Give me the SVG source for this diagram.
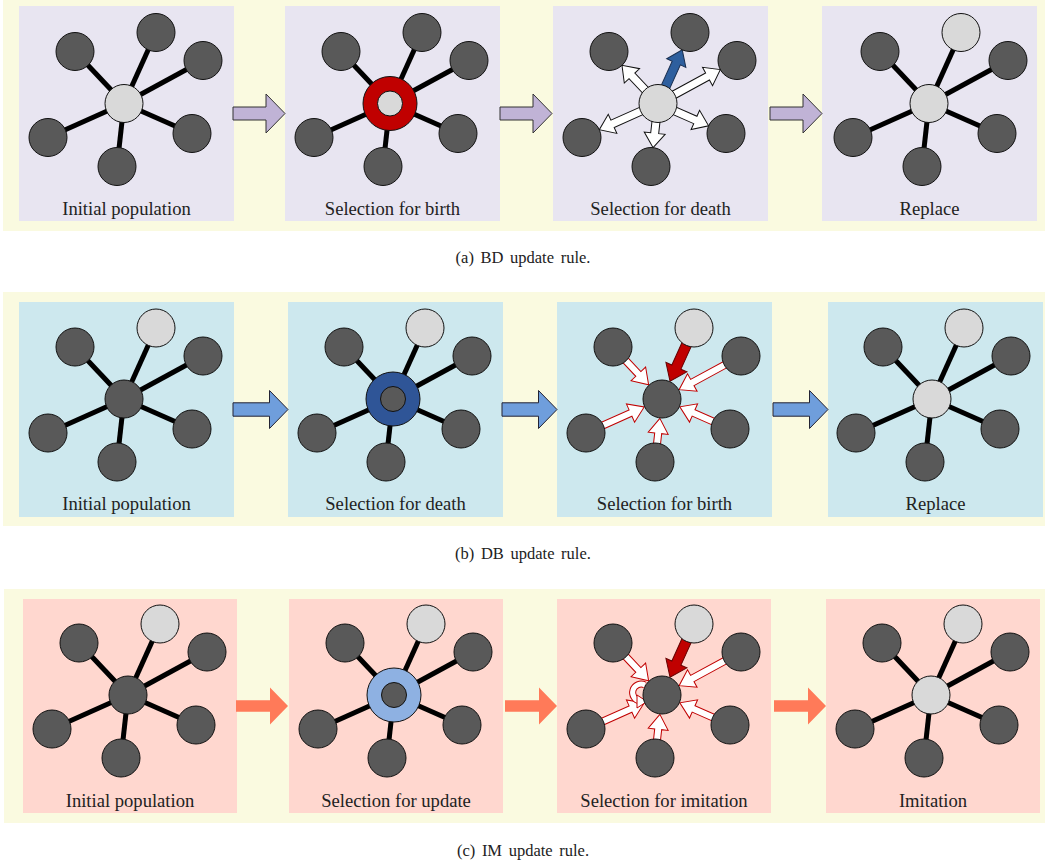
<svg xmlns="http://www.w3.org/2000/svg" xmlns:xlink="http://www.w3.org/1999/xlink" width="1045" height="867" viewBox="0 0 1045 867">
<style>
.band{fill:#fafae0}
.pa{fill:#e8e5f1}
.pb{fill:#cde8ee}
.pc{fill:#ffd7cf}
.e{stroke:#000;stroke-width:5;fill:none}
.d{fill:#595959;stroke:#111;stroke-width:1}
.l{fill:#d9d9d9;stroke:#111;stroke-width:1}
.lab{font-family:"Liberation Serif","Times New Roman",serif;font-size:18.6px;fill:#222;text-anchor:middle}
.cap{font-family:"Liberation Serif","Times New Roman",serif;font-size:16.5px;fill:#222;text-anchor:middle;word-spacing:2.5px}
.wo{fill:#fff;stroke:#111;stroke-width:1}
.wi{fill:#fff;stroke:#c00000;stroke-width:1}
.ra{fill:#c00000;stroke:#600;stroke-width:1}
.ba{fill:#2e5f9e;stroke:#1a2f50;stroke-width:1}
.arA{fill:#c0b3d6;stroke:#333;stroke-width:1}
.arB{fill:#6f9edc;stroke:#223;stroke-width:1}
.arC{fill:#ff7a59}
</style>
<defs>
<g id="edges" class="e">
<line x1="0" y1="0" x2="-49" y2="-52"/>
<line x1="0" y1="0" x2="32" y2="-71"/>
<line x1="0" y1="0" x2="79" y2="-43"/>
<line x1="0" y1="0" x2="68" y2="30"/>
<line x1="0" y1="0" x2="-7" y2="63"/>
<line x1="0" y1="0" x2="-76" y2="34"/>
</g>
<g id="outer5">
<circle class="d" cx="-49" cy="-52" r="19"/>
<circle class="d" cx="79" cy="-43" r="19"/>
<circle class="d" cx="68" cy="30" r="19"/>
<circle class="d" cx="-7" cy="63" r="19"/>
<circle class="d" cx="-76" cy="34" r="19"/>
</g>
<polygon id="bigA" points="-52,-6.5 -19,-6.5 -19,-19.5 0,0 -19,19.5 -19,6.5 -52,6.5"/>
<polygon id="bigB" points="-55,-6.7 -18.5,-6.7 -18.5,-19 0,0 -18.5,19 -18.5,6.7 -55,6.7"/>
<polygon id="bigC" points="-52,-5.8 -18,-5.8 -18,-18.5 0,0 -18,18.5 -18,5.8 -52,5.8"/>
<g id="inArrows">
<polygon class="wi" transform="rotate(-133.3)" points="71.5,-3.5 34.5,-3.5 34.5,-10 19.5,0 34.5,10 34.5,3.5 71.5,3.5"/>
<polygon class="wi" transform="rotate(-28.56)" points="89.9,-3.5 34.5,-3.5 34.5,-10 19.5,0 34.5,10 34.5,3.5 89.9,3.5"/>
<polygon class="wi" transform="rotate(23.81)" points="74.3,-3.5 34.5,-3.5 34.5,-10 19.5,0 34.5,10 34.5,3.5 74.3,3.5"/>
<polygon class="wi" transform="rotate(96.34)" points="63.4,-3.5 34.5,-3.5 34.5,-10 19.5,0 34.5,10 34.5,3.5 63.4,3.5"/>
<polygon class="wi" transform="rotate(155.9)" points="83.3,-3.5 34.5,-3.5 34.5,-10 19.5,0 34.5,10 34.5,3.5 83.3,3.5"/>
<polygon class="ra" transform="rotate(-65.7)" points="77.9,-5 35,-5 35,-11.5 19.5,0 35,11.5 35,5 77.9,5"/>
</g>
</defs>

<g id="bands">
<rect class="band" x="3" y="-1" width="1042" height="232"/>
<rect class="band" x="3" y="292" width="1042" height="234"/>
<rect class="band" x="4" y="589" width="1041" height="234"/>
</g>

<!-- Row a: BD -->
<g id="a1">
<rect class="pa" x="19" y="6" width="215" height="215"/>
<g transform="translate(124,103.5)">
<use xlink:href="#edges" href="#edges"/>
<use xlink:href="#outer5" href="#outer5"/>
<circle class="d" cx="32" cy="-71" r="19"/>
<circle class="l" cx="0" cy="0" r="19"/>
</g>
<text class="lab" x="126.5" y="215">Initial population</text>
</g>
<g id="a2">
<rect class="pa" x="285" y="6" width="215" height="215"/>
<g transform="translate(390,103.5)">
<use xlink:href="#edges" href="#edges"/>
<use xlink:href="#outer5" href="#outer5"/>
<circle class="d" cx="32" cy="-71" r="19"/>
<circle cx="0" cy="0" r="27" fill="#c00000" stroke="#111" stroke-width="1"/>
<circle class="l" cx="0" cy="0" r="12.5"/>
</g>
<text class="lab" x="392.5" y="215">Selection for birth</text>
</g>
<g id="a3">
<rect class="pa" x="553" y="6" width="215" height="215"/>
<g transform="translate(658,103.5)">
<polygon class="wo" transform="rotate(-133.3)" points="0,-4 38,-4 38,-10.5 52.5,0 38,10.5 38,4 0,4"/>
<polygon class="ba" transform="rotate(-65.7)" points="0,-4.5 44.4,-4.5 44.4,-10.5 58.9,0 44.4,10.5 44.4,4.5 0,4.5"/>
<polygon class="wo" transform="rotate(-28.56)" points="0,-4 56.4,-4 56.4,-10.5 70.9,0 56.4,10.5 56.4,4 0,4"/>
<polygon class="wo" transform="rotate(23.81)" points="0,-4 40.8,-4 40.8,-10.5 55.3,0 40.8,10.5 40.8,4 0,4"/>
<polygon class="wo" transform="rotate(96.34)" points="0,-4 29.9,-4 29.9,-10.5 44.4,0 29.9,10.5 29.9,4 0,4"/>
<polygon class="wo" transform="rotate(155.9)" points="0,-4 49.8,-4 49.8,-10.5 64.3,0 49.8,10.5 49.8,4 0,4"/>
<use xlink:href="#outer5" href="#outer5"/>
<circle class="d" cx="32" cy="-71" r="19"/>
<circle class="l" cx="0" cy="0" r="19"/>
</g>
<text class="lab" x="660.5" y="215">Selection for death</text>
</g>
<g id="a4">
<rect class="pa" x="822" y="6" width="215" height="215"/>
<g transform="translate(929,103.5)">
<use xlink:href="#edges" href="#edges"/>
<use xlink:href="#outer5" href="#outer5"/>
<circle class="l" cx="32" cy="-71" r="19"/>
<circle class="l" cx="0" cy="0" r="19"/>
</g>
<text class="lab" x="929.5" y="215">Replace</text>
</g>

<!-- Row b: DB -->
<g id="b1">
<rect class="pb" x="19" y="302" width="215" height="215"/>
<g transform="translate(124,399)">
<use xlink:href="#edges" href="#edges"/>
<use xlink:href="#outer5" href="#outer5"/>
<circle class="l" cx="32" cy="-71" r="19"/>
<circle class="d" cx="0" cy="0" r="19"/>
</g>
<text class="lab" x="126.5" y="510">Initial population</text>
</g>
<g id="b2">
<rect class="pb" x="288" y="302" width="215" height="215"/>
<g transform="translate(393,399)">
<use xlink:href="#edges" href="#edges"/>
<use xlink:href="#outer5" href="#outer5"/>
<circle class="l" cx="32" cy="-71" r="19"/>
<circle cx="0" cy="0" r="27" fill="#2f5597" stroke="#111" stroke-width="1"/>
<circle class="d" cx="0" cy="0" r="12.5"/>
</g>
<text class="lab" x="395.5" y="510">Selection for death</text>
</g>
<g id="b3">
<rect class="pb" x="557" y="302" width="215" height="215"/>
<g transform="translate(662,399)">
<use xlink:href="#inArrows" href="#inArrows"/>
<use xlink:href="#outer5" href="#outer5"/>
<circle class="l" cx="32" cy="-71" r="19"/>
<circle class="d" cx="0" cy="0" r="19"/>
</g>
<text class="lab" x="664.5" y="510">Selection for birth</text>
</g>
<g id="b4">
<rect class="pb" x="828" y="302" width="215" height="215"/>
<g transform="translate(932,399)">
<use xlink:href="#edges" href="#edges"/>
<use xlink:href="#outer5" href="#outer5"/>
<circle class="l" cx="32" cy="-71" r="19"/>
<circle class="l" cx="0" cy="0" r="19"/>
</g>
<text class="lab" x="935.5" y="510">Replace</text>
</g>

<!-- Row c: IM -->
<g id="c1">
<rect class="pc" x="23" y="599" width="214" height="214"/>
<g transform="translate(128,695)">
<use xlink:href="#edges" href="#edges"/>
<use xlink:href="#outer5" href="#outer5"/>
<circle class="l" cx="32" cy="-71" r="19"/>
<circle class="d" cx="0" cy="0" r="19"/>
</g>
<text class="lab" x="130" y="807">Initial population</text>
</g>
<g id="c2">
<rect class="pc" x="289" y="599" width="214" height="214"/>
<g transform="translate(394,695)">
<use xlink:href="#edges" href="#edges"/>
<use xlink:href="#outer5" href="#outer5"/>
<circle class="l" cx="32" cy="-71" r="19"/>
<circle cx="0" cy="0" r="27" fill="#8eb1e2" stroke="#111" stroke-width="1"/>
<circle class="d" cx="0" cy="0" r="12.5"/>
</g>
<text class="lab" x="396" y="807">Selection for update</text>
</g>
<g id="c3">
<rect class="pc" x="557" y="599" width="214" height="214"/>
<g transform="translate(662,695)">
<use xlink:href="#inArrows" href="#inArrows"/>
<path d="M -17,-10 A 8.5 8.5 0 1 0 -22,6" fill="none" stroke="#c00000" stroke-width="7"/>
<path d="M -17,-10 A 8.5 8.5 0 1 0 -22,6" fill="none" stroke="#fff" stroke-width="5"/>
<polygon class="wi" points="-25,0 -15,6.5 -25,13"/>
<use xlink:href="#outer5" href="#outer5"/>
<circle class="l" cx="32" cy="-71" r="19"/>
<circle class="d" cx="0" cy="0" r="19"/>
</g>
<text class="lab" x="664" y="807">Selection for imitation</text>
</g>
<g id="c4">
<rect class="pc" x="826" y="599" width="214" height="214"/>
<g transform="translate(931,695)">
<use xlink:href="#edges" href="#edges"/>
<use xlink:href="#outer5" href="#outer5"/>
<circle class="l" cx="32" cy="-71" r="19"/>
<circle class="l" cx="0" cy="0" r="19"/>
</g>
<text class="lab" x="933" y="807">Imitation</text>
</g>

<g id="connectors">
<use class="arA" xlink:href="#bigA" href="#bigA" transform="translate(285,113.5)"/>
<use class="arA" xlink:href="#bigA" href="#bigA" transform="translate(552,113.5)"/>
<use class="arA" xlink:href="#bigA" href="#bigA" transform="translate(822,113.5)"/>
<use class="arB" xlink:href="#bigB" href="#bigB" transform="translate(288,409.5)"/>
<use class="arB" xlink:href="#bigB" href="#bigB" transform="translate(557,409.5)"/>
<use class="arB" xlink:href="#bigB" href="#bigB" transform="translate(828,409.5)"/>
<use class="arC" xlink:href="#bigC" href="#bigC" transform="translate(288,706)"/>
<use class="arC" xlink:href="#bigC" href="#bigC" transform="translate(557,706)"/>
<use class="arC" xlink:href="#bigC" href="#bigC" transform="translate(826,706)"/>
</g>

<g id="captions">
<text class="cap" x="523" y="263">(a) BD update rule.</text>
<text class="cap" x="523" y="559">(b) DB update rule.</text>
<text class="cap" x="523" y="856">(c) IM update rule.</text>
</g>
</svg>
